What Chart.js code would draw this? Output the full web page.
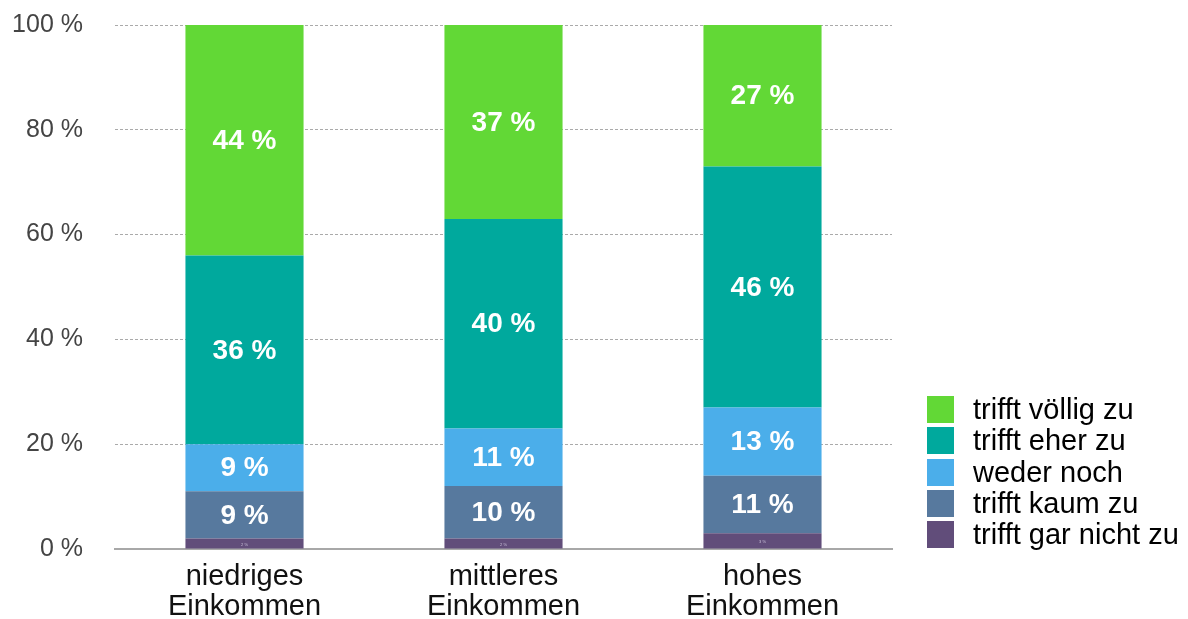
<!DOCTYPE html>
<html lang="de">
<head>
<meta charset="utf-8">
<script src="https://cdn.jsdelivr.net/npm/chart.js@4/dist/chart.umd.min.js"></script>
<style>
  html, body { margin: 0; padding: 0; background: #fff; }
  #wrap { position: relative; width: 1188px; height: 619px; }
  #legend {
    position: absolute; left: 927px; top: 396px;
    font-family: "Liberation Sans", Arial, sans-serif; font-size: 29px; color: #000;
  }
  #legend .row { position: relative; height: 31.3px; }
  #legend .box { position: absolute; left: 0; top: 0; width: 27px; height: 27px; }
  #legend .txt { position: absolute; left: 46px; top: -3px; line-height: 32px; white-space: nowrap; }
</style>
</head>
<body>
<div id="wrap">
  <canvas id="chart" width="1188" height="619"></canvas>
  <div id="legend"></div>
</div>
<script>
// categories (two-line labels)
const groups = [['niedriges', 'Einkommen'], ['mittleres', 'Einkommen'], ['hohes', 'Einkommen']];

// shares in percent, bottom to top
const garNicht = [2, 2, 3];
const kaum     = [9, 10, 11];
const weder    = [9, 11, 13];
const eher     = [36, 40, 46];
const voellig  = [44, 37, 27];

const yTicks = [0, 20, 40, 60, 80, 100];

const series = [
  { label: 'trifft gar nicht zu', data: garNicht, color: '#614d7a' },
  { label: 'trifft kaum zu',      data: kaum,     color: '#57799e' },
  { label: 'weder noch',          data: weder,    color: '#4baeea' },
  { label: 'trifft eher zu',      data: eher,     color: '#00a99d' },
  { label: 'trifft völlig zu',    data: voellig,  color: '#62d836' }
];

const FONT = '"Liberation Sans", Arial, sans-serif';

// value labels in the middle of each segment
const segmentLabels = {
  id: 'segmentLabels',
  afterDatasetsDraw(chart) {
    const ctx = chart.ctx;
    ctx.save();
    ctx.textAlign = 'center';
    ctx.textBaseline = 'middle';
    chart.data.datasets.forEach((ds, i) => {
      const meta = chart.getDatasetMeta(i);
      meta.data.forEach((bar, j) => {
        const v = ds.data[j];
        const cy = (bar.y + bar.base) / 2;
        if (v < 5) {
          ctx.font = '4px ' + FONT;
          ctx.fillStyle = '#c8c0d8';
        } else {
          ctx.font = 'bold 28px ' + FONT;
          ctx.fillStyle = '#ffffff';
        }
        ctx.fillText(v + ' %', bar.x, cy + 1);
      });
    });
    ctx.restore();
  }
};

const ctx = document.getElementById('chart').getContext('2d');
const chart = new Chart(ctx, {
  type: 'bar',
  data: {
    labels: groups,
    datasets: series.map(s => ({
      label: s.label,
      data: s.data,
      backgroundColor: s.color,
      borderWidth: 0,
      barPercentage: 0.456,
      categoryPercentage: 1
    }))
  },
  options: {
    responsive: false,
    animation: false,
    devicePixelRatio: 1,
    layout: { padding: { top: 25, right: 296, bottom: 0, left: 0 } },
    plugins: {
      legend: { display: false },
      tooltip: { enabled: false }
    },
    scales: {
      x: {
        stacked: true,
        afterFit: s => { s.height = 70; },
        grid: { display: false, drawTicks: false },
        border: { display: true, color: '#a8a8a8', width: 2 },
        ticks: {
          color: '#111',
          padding: 13,
          font: { family: FONT, size: 29, lineHeight: '30px' }
        }
      },
      y: {
        stacked: true,
        min: 0,
        max: 100,
        afterFit: s => { s.width = 115; s.paddingTop = 0; s.paddingBottom = 0; },
        afterBuildTicks: s => { s.ticks = yTicks.map(v => ({ value: v })); },
        grid: { color: '#aaaaaa', lineWidth: 1, drawTicks: false },
        border: { display: false, dash: [3, 2] },
        ticks: {
          color: '#444',
          padding: 32,
          font: { family: FONT, size: 25 },
          callback: v => v + ' %'
        }
      }
    }
  },
  plugins: [segmentLabels]
});

// legend, top entry = top segment
const legend = document.getElementById('legend');
series.slice().reverse().forEach(s => {
  const row = document.createElement('div');
  row.className = 'row';
  const box = document.createElement('div');
  box.className = 'box';
  box.style.background = s.color;
  const txt = document.createElement('div');
  txt.className = 'txt';
  txt.textContent = s.label;
  row.appendChild(box);
  row.appendChild(txt);
  legend.appendChild(row);
});
</script>
</body>
</html>
